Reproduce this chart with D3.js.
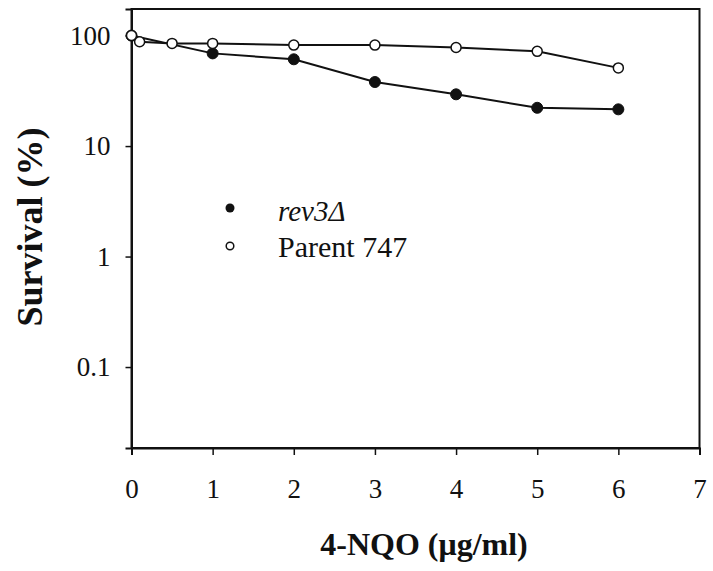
<!DOCTYPE html>
<html>
<head>
<meta charset="utf-8">
<script src="https://cdn.jsdelivr.net/npm/d3@7"></script>
<style>
  html, body { margin: 0; padding: 0; background: #fff; }
  svg { display: block; }
  text { font-family: "Liberation Serif", "Times New Roman", serif; fill: #111; }
</style>
</head>
<body>
<svg id="chart" width="713" height="571"></svg>
<script>
// Survival of strains after 4-NQO exposure
const doseRev3 = [0, 1, 2, 3, 4, 5, 6];
const survivalRev3 = [100, 69, 61, 38, 29.4, 22.2, 21.5];

const doseParent = [0, 0.1, 0.5, 1, 2, 3, 4, 5, 6];
const survivalParent = [100, 88, 85, 85, 82, 82, 78, 72, 51];

const xTicks = [0, 1, 2, 3, 4, 5, 6, 7];
const yTicks = [100, 10, 1, 0.1];
const yTickLabels = ["100", "10", "1", "0.1"];

const legendLabels = ["rev3\u0394", "Parent 747"];
const xTitle = "4-NQO (\u03bcg/ml)";
const yTitle = "Survival (%)";

const svg = d3.select("#chart");
const plotLeft = 131.5, plotRight = 699.5, plotTop = 9, plotBottom = 448;

const x = d3.scaleLinear().domain([0, 7]).range([plotLeft, plotRight]);
const y = d3.scaleLog().domain([0.0185, 174]).range([plotBottom, plotTop]);

// Frame around the plotting area
svg.append("rect")
  .attr("x", plotLeft).attr("y", plotTop)
  .attr("width", plotRight - plotLeft).attr("height", plotBottom - plotTop)
  .attr("fill", "none").attr("stroke", "#111").attr("stroke-width", 2);

// X axis
const xAxis = svg.append("g")
  .attr("transform", `translate(0,${plotBottom})`)
  .call(d3.axisBottom(x).tickValues(xTicks).tickFormat(d3.format("d"))
    .tickSize(7).tickPadding(24));
xAxis.select(".domain").attr("stroke", "#111").attr("stroke-width", 2);
xAxis.selectAll(".tick line").attr("stroke", "#111").attr("stroke-width", 1.5);
xAxis.selectAll(".tick text")
  .attr("font-family", "Liberation Serif, serif").attr("font-size", 27)
  .attr("fill", "#2a2a2a");

// Y axis (log)
const yAxis = svg.append("g")
  .attr("transform", `translate(${plotLeft},0)`)
  .call(d3.axisLeft(y).tickValues(yTicks)
    .tickFormat((d, i) => yTickLabels[i])
    .tickSize(6).tickPadding(15));
yAxis.select(".domain").attr("stroke", "#111").attr("stroke-width", 2);
yAxis.selectAll(".tick line").attr("stroke", "#111").attr("stroke-width", 1.5);
yAxis.selectAll(".tick text")
  .attr("font-family", "Liberation Serif, serif").attr("font-size", 27)
  .attr("fill", "#2a2a2a");

// Axis titles
svg.append("text")
  .attr("x", 424).attr("y", 555)
  .attr("text-anchor", "middle")
  .attr("font-weight", "bold").attr("font-size", 32)
  .text(xTitle);

svg.append("text")
  .attr("transform", "translate(42,227) rotate(-90)")
  .attr("text-anchor", "middle")
  .attr("font-weight", "bold").attr("font-size", 36)
  .text(yTitle);

// Series
const rev3 = doseRev3.map((d, i) => ({ x: d, y: survivalRev3[i] }));
const parent = doseParent.map((d, i) => ({ x: d, y: survivalParent[i] }));
const line = d3.line().x(d => x(d.x)).y(d => y(d.y));

svg.append("path").datum(rev3)
  .attr("d", line).attr("fill", "none")
  .attr("stroke", "#111").attr("stroke-width", 2);
svg.append("path").datum(parent)
  .attr("d", line).attr("fill", "none")
  .attr("stroke", "#111").attr("stroke-width", 2);

svg.append("g").selectAll("circle").data(rev3).join("circle")
  .attr("cx", d => x(d.x)).attr("cy", d => y(d.y)).attr("r", 5.5)
  .attr("fill", "#111").attr("stroke", "#111").attr("stroke-width", 1);

svg.append("g").selectAll("circle").data(parent).join("circle")
  .attr("cx", d => x(d.x)).attr("cy", d => y(d.y)).attr("r", 5)
  .attr("fill", "#fff").attr("stroke", "#111").attr("stroke-width", 1.5);

// Legend
const legend = svg.append("g");
legend.append("circle").attr("cx", 230).attr("cy", 208).attr("r", 4.5)
  .attr("fill", "#111");
legend.append("circle").attr("cx", 230).attr("cy", 246).attr("r", 3.8)
  .attr("fill", "#fff").attr("stroke", "#111").attr("stroke-width", 1.5);
legend.append("text").attr("x", 278).attr("y", 221)
  .attr("font-size", 29).attr("font-style", "italic")
  .text(legendLabels[0]);
legend.append("text").attr("x", 278).attr("y", 257)
  .attr("font-size", 30)
  .text(legendLabels[1]);
</script>
</body>
</html>
